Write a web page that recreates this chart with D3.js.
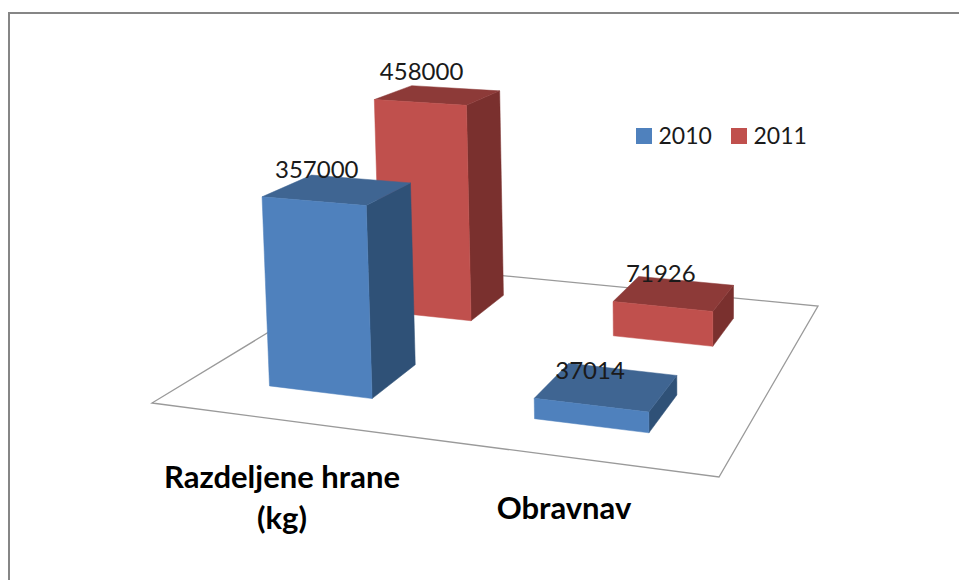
<!DOCTYPE html>
<html>
<head>
<meta charset="utf-8">
<script src="https://cdn.jsdelivr.net/npm/d3@7"></script>
<style>
html,body{margin:0;padding:0;background:#fff;overflow:hidden}
svg{display:block}
text{font-family:Lato,"Open Sans",sans-serif}
</style>
</head>
<body>
<svg id="chart" width="959" height="580"></svg>
<script>
// ---- data ----
const categories = ["Razdeljene hrane (kg)", "Obravnav"];
const categoryLines = [["Razdeljene hrane", "(kg)"], ["Obravnav"]];
const seriesNames = ["2010", "2011"];
const values2010 = [357000, 37014];
const values2011 = [458000, 71926];
const seriesValues = [values2010, values2011];

// ---- style / layout ----
const frontColors = ["#4F81BD", "#C0504D"];
const topColors   = ["#3F6592", "#8D3A38"];
const sideColors  = ["#2F5177", "#7A302E"];
const floor = {A:[152,403], B:[719,477], C:[818,306], D:[381,264]};
const vertical = {p:-0.034, q:-0.556, r:-0.0000477}; // projective direction of the value axis, per 1000 units
const labelNudge = [[[-21,-20.5],[-16.5,-24]],[[-17,-16],[-13.5,-19.5]]];
const categoryLabelPos = [{x:282,y:488,dy:41},{x:564,y:518.5,dy:0}];

// ---- scales ----
const uScale = d3.scaleBand().domain(categories).range([0,1]).paddingInner(0.6).paddingOuter(0.3);
const vScale = d3.scaleBand().domain(seriesNames).range([0,1]).paddingInner(0.6).paddingOuter(0.3);
const tScale = d3.scaleLinear().domain([0,1000]).range([0,1]);

// ---- perspective projection of (u, v, value) built from the floor corners ----
const {A,B,C,D} = floor;
const dx1=B[0]-C[0], dx2=D[0]-C[0], sx=A[0]-B[0]+C[0]-D[0];
const dy1=B[1]-C[1], dy2=D[1]-C[1], sy=A[1]-B[1]+C[1]-D[1];
const det=dx1*dy2-dx2*dy1;
const g=(sx*dy2-dx2*sy)/det, h=(dx1*sy-sx*dy1)/det;
const a=B[0]-A[0]+g*B[0], b=D[0]-A[0]+h*D[0], c=A[0];
const d=B[1]-A[1]+g*B[1], e=D[1]-A[1]+h*D[1], f=A[1];
function project(u,v,val){
  const t=tScale(val);
  const w=g*u+h*v+1+vertical.r*t;
  return [(a*u+b*v+c+vertical.p*t)/w,(d*u+e*v+f+vertical.q*t)/w];
}
const poly = d3.line();
const closed = pts => poly(pts)+"Z";

const svg = d3.select("#chart");

// chart frame (cropped at the right and bottom of the picture)
svg.append("path").attr("d","M9,580V13H959").attr("fill","none").attr("stroke","#868686").attr("stroke-width",2);

// floor
svg.append("path").attr("d",closed([A,B,C,D].map(([x,y])=>[x,y]))).attr("fill","#fff").attr("stroke","#9a9a9a").attr("stroke-width",1.3);

// bars, back to front
const bars=[];
seriesNames.forEach((s,si)=>categories.forEach((cat,ci)=>bars.push({s,si,cat,ci,value:seriesValues[si][ci]})));
bars.sort((p,q)=>d3.descending(p.si,q.si)||d3.ascending(p.ci,q.ci));

const barG = svg.append("g").selectAll("g").data(bars).join("g").attr("stroke-width",0.5).attr("stroke-linejoin","round");
function corners(dd){
  const u0=uScale(dd.cat),u1=u0+uScale.bandwidth(),v0=vScale(dd.s),v1=v0+vScale.bandwidth();
  return {u0,u1,v0,v1};
}
barG.append("path").attr("fill",dd=>sideColors[dd.si]).attr("stroke",dd=>sideColors[dd.si]).attr("d",dd=>{
  const {u1,v0,v1}=corners(dd);
  return closed([project(u1,v0,0),project(u1,v1,0),project(u1,v1,dd.value),project(u1,v0,dd.value)]);
});
barG.append("path").attr("fill",dd=>topColors[dd.si]).attr("stroke",dd=>topColors[dd.si]).attr("d",dd=>{
  const {u0,u1,v0,v1}=corners(dd);
  return closed([project(u0,v0,dd.value),project(u1,v0,dd.value),project(u1,v1,dd.value),project(u0,v1,dd.value)]);
});
barG.append("path").attr("fill",dd=>frontColors[dd.si]).attr("stroke",dd=>frontColors[dd.si]).attr("d",dd=>{
  const {u0,u1,v0}=corners(dd);
  return closed([project(u0,v0,0),project(u1,v0,0),project(u1,v0,dd.value),project(u0,v0,dd.value)]);
});

// data labels
svg.append("g").selectAll("text").data(bars).join("text")
  .attr("text-anchor","middle").attr("font-size",24).attr("fill","#1a1a1a")
  .attr("x",dd=>{const k=corners(dd);return project((k.u0+k.u1)/2,(k.v0+k.v1)/2,dd.value)[0]+labelNudge[dd.ci][dd.si][0];})
  .attr("y",dd=>{const k=corners(dd);return project((k.u0+k.u1)/2,(k.v0+k.v1)/2,dd.value)[1]+labelNudge[dd.ci][dd.si][1]+8.5;})
  .text(dd=>dd.value);

// category labels
const catText = svg.append("g").selectAll("text").data(categories).join("text")
  .attr("text-anchor","middle").attr("font-size",31).attr("font-weight",700).attr("fill","#000")
  .attr("x",(_,i)=>categoryLabelPos[i].x).attr("y",(_,i)=>categoryLabelPos[i].y);
catText.each(function(_,i){
  d3.select(this).selectAll("tspan").data(categoryLines[i]).join("tspan")
    .attr("x",categoryLabelPos[i].x)
    .attr("dy",(_,j)=>j?categoryLabelPos[i].dy:0)
    .text(t=>t);
});

// legend
const legendX = d3.scaleOrdinal().domain(seriesNames).range([636,731]);
const legend = svg.append("g").selectAll("g").data(seriesNames).join("g")
  .attr("transform",s=>`translate(${legendX(s)},128)`);
legend.append("rect").attr("width",16).attr("height",16).attr("fill",(_,i)=>frontColors[i]);
legend.append("text").attr("x",22.5).attr("y",16).attr("font-size",23).attr("fill","#1a1a1a").text(s=>s);
</script>
</body>
</html>
